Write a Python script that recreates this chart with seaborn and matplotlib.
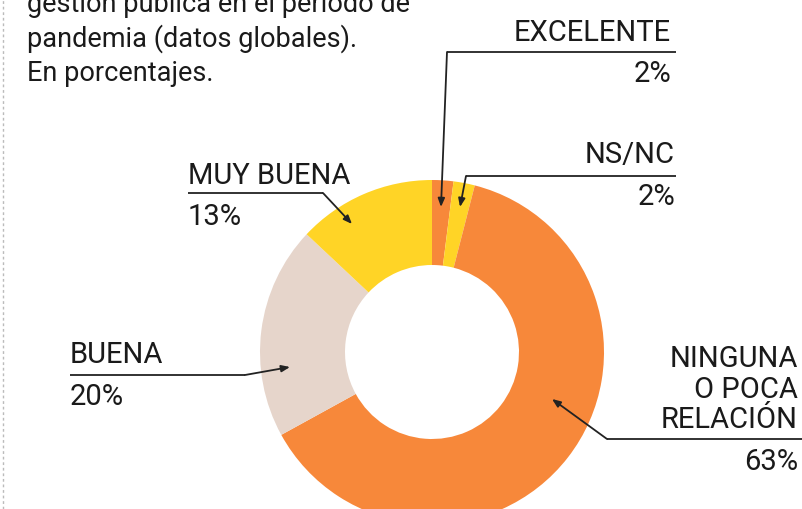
import matplotlib
matplotlib.use("Agg")
import matplotlib.pyplot as plt
import seaborn as sns

# datos
categorias = ["EXCELENTE", "NS/NC", "NINGUNA\nO POCA\nRELACIÓN", "BUENA", "MUY BUENA"]
valores = [2, 2, 63, 20, 13]
colores = ["#F7883A", "#FFD426", "#F7883A", "#E6D5CB", "#FFD426"]

titulo = ["gestión pública en el período de", "pandemia (datos globales).", "En porcentajes."]

W, H = 803, 509

sns.set_theme(style="white")
plt.rcParams['font.family'] = ['Roboto', 'DejaVu Sans']

fig = plt.figure(figsize=(W / 100, H / 100), dpi=100)
ax = fig.add_axes([0, 0, 1, 1])


def yy(py):
    # pixel (desde arriba) -> coordenada de datos
    return H - py


# donut
ax.pie(valores, colors=colores, startangle=90, counterclock=False,
       center=(432, yy(352)), radius=172,
       wedgeprops=dict(width=85, linewidth=0, edgecolor="none"))
ax.set_xlim(0, W)
ax.set_ylim(0, H)
ax.set_aspect("auto")
ax.axis("off")

# titulo (cortado arriba, como en el original)
for i, linea in enumerate(titulo):
    ax.text(27, yy(12 + 34.5 * i), linea, fontsize=19.5, color="#1a1a1a",
            ha="left", va="baseline")

# etiquetas: x texto, alineacion, baseline nombre, linea, codo, punta, baseline valor
etiquetas = {
    "EXCELENTE": dict(x=671, ha="right", yname=41, yline=52, x0=447, x1=676,
                      codo=(447, 52), punta=(441, 207), yval=82),
    "NS/NC": dict(x=675, ha="right", yname=163, yline=176, x0=466, x1=676,
                  codo=(466, 176), punta=(460, 207), yval=205),
    "NINGUNA\nO POCA\nRELACIÓN": dict(x=798, ha="right", yname=428, yline=439, x0=607, x1=802,
                                      codo=(607, 439), punta=(552, 399), yval=470),
    "BUENA": dict(x=70, ha="left", yname=363, yline=375, x0=70, x1=245,
                  codo=(245, 375), punta=(290, 367), yval=405),
    "MUY BUENA": dict(x=188, ha="left", yname=184, yline=193, x0=188, x1=323,
                      codo=(323, 193), punta=(352, 224), yval=225),
}

for cat, val in zip(categorias, valores):
    e = etiquetas[cat]
    lineas = cat.split("\n")
    for j, l in enumerate(reversed(lineas)):
        ax.text(e["x"], yy(e["yname"] - 30.5 * j), l, fontsize=21, color="#1a1a1a",
                ha=e["ha"], va="baseline")
    ax.text(e["x"], yy(e["yval"]), f"{val}%", fontsize=21, color="#1a1a1a",
            ha=e["ha"], va="baseline")
    ax.plot([e["x0"], e["x1"]], [yy(e["yline"]), yy(e["yline"])], color="#222222", lw=1.3,
            solid_capstyle="butt")
    ax.annotate("", xy=(e["punta"][0], yy(e["punta"][1])),
                xytext=(e["codo"][0], yy(e["codo"][1])),
                arrowprops=dict(arrowstyle="-|>,head_length=0.5,head_width=0.2",
                                color="#222222", lw=1.3, shrinkA=0, shrinkB=0,
                                mutation_scale=10))

# linea punteada a la izquierda
ax.plot([3, 3], [0, H], color="#bbbbbb", lw=1, ls=(0, (2, 2)))

fig.savefig("out.png", dpi=100)
